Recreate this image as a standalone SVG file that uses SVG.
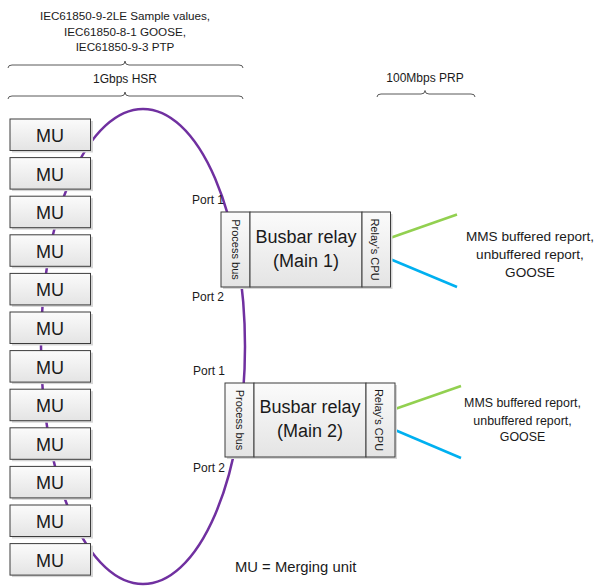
<svg xmlns="http://www.w3.org/2000/svg" width="600" height="586" viewBox="0 0 600 586">
<defs>
<linearGradient id="boxg" x1="0" y1="0" x2="0" y2="1">
<stop offset="0" stop-color="#fbfbfb"/>
<stop offset="1" stop-color="#e4e4e4"/>
</linearGradient>
<style>
text{font-family:"Liberation Sans",Arial,sans-serif;fill:#1a1a1a}
.box{fill:url(#boxg);stroke:#3c3c3c;stroke-width:1}
.shadow{fill:#d6d6d6}
.mu{font-size:18px;text-anchor:middle}
.lbl{font-size:11.7px;text-anchor:middle}
.lbl2{font-size:12.4px;text-anchor:middle}
.lbl1{font-size:13.6px;text-anchor:middle}
.port{font-size:12px}
.vt{font-size:11px;text-anchor:middle}
.big{font-size:18px;text-anchor:middle}
.brace{fill:none;stroke:#595959;stroke-width:1}
.ring{fill:none;stroke:#7030a0;stroke-width:2.5}
.green{stroke:#92d050;stroke-width:2.5}
.blue{stroke:#00b0f0;stroke-width:2.5}
</style>
</defs>
<rect width="600" height="586" fill="#fff"/>

<g id="header">
<text class="lbl" x="125" y="20">IEC61850-9-2LE Sample values,</text>
<text class="lbl" x="125" y="35.5">IEC61850-8-1 GOOSE,</text>
<text class="lbl" x="125" y="51">IEC61850-9-3 PTP</text>
<path class="brace" d="M8,68 Q8,65 12,65 L121,65 Q125,65 125,61 Q125,65 129,65 L239,65 Q243,65 243,68"/>
<text class="lbl" x="125" y="83" style="font-size:12px">1Gbps HSR</text>
<path class="brace" d="M8,99 Q8,96 12,96 L121,96 Q125,96 125,92 Q125,96 129,96 L239,96 Q243,96 243,99"/>
<text class="lbl" x="425" y="82.3" style="font-size:12px">100Mbps PRP</text>
<path class="brace" d="M377,97 Q377,94 381,94 L421,94 Q425,94 425,90.5 Q425,94 429,94 L471,94 Q475,94 475,97"/>
</g>

<g id="connectors">
<ellipse class="ring" cx="143" cy="346.5" rx="102" ry="237.5"/>
<line class="green" x1="390" y1="238" x2="457" y2="214.5"/>
<line class="blue" x1="390" y1="259" x2="457" y2="287"/>
<line class="green" x1="395" y1="409" x2="461" y2="386"/>
<line class="blue" x1="395" y1="430" x2="461" y2="458"/>
</g>

<g id="mu1"><rect class="shadow" x="12" y="121" width="81" height="31.5"/><rect class="box" x="10" y="119" width="80.5" height="31.5"/><text class="mu" x="50" y="142">MU</text></g>
<g id="mu2"><rect class="shadow" x="12" y="159.6" width="81" height="31.5"/><rect class="box" x="10" y="157.6" width="80.5" height="31.5"/><text class="mu" x="50" y="180.6">MU</text></g>
<g id="mu3"><rect class="shadow" x="12" y="198.2" width="81" height="31.5"/><rect class="box" x="10" y="196.2" width="80.5" height="31.5"/><text class="mu" x="50" y="219.2">MU</text></g>
<g id="mu4"><rect class="shadow" x="12" y="236.8" width="81" height="31.5"/><rect class="box" x="10" y="234.8" width="80.5" height="31.5"/><text class="mu" x="50" y="257.8">MU</text></g>
<g id="mu5"><rect class="shadow" x="12" y="275.4" width="81" height="31.5"/><rect class="box" x="10" y="273.4" width="80.5" height="31.5"/><text class="mu" x="50" y="296.4">MU</text></g>
<g id="mu6"><rect class="shadow" x="12" y="314" width="81" height="31.5"/><rect class="box" x="10" y="312" width="80.5" height="31.5"/><text class="mu" x="50" y="335">MU</text></g>
<g id="mu7"><rect class="shadow" x="12" y="352.6" width="81" height="31.5"/><rect class="box" x="10" y="350.6" width="80.5" height="31.5"/><text class="mu" x="50" y="373.6">MU</text></g>
<g id="mu8"><rect class="shadow" x="12" y="391.2" width="81" height="31.5"/><rect class="box" x="10" y="389.2" width="80.5" height="31.5"/><text class="mu" x="50" y="412.2">MU</text></g>
<g id="mu9"><rect class="shadow" x="12" y="429.8" width="81" height="31.5"/><rect class="box" x="10" y="427.8" width="80.5" height="31.5"/><text class="mu" x="50" y="450.8">MU</text></g>
<g id="mu10"><rect class="shadow" x="12" y="468.4" width="81" height="31.5"/><rect class="box" x="10" y="466.4" width="80.5" height="31.5"/><text class="mu" x="50" y="489.4">MU</text></g>
<g id="mu11"><rect class="shadow" x="12" y="507" width="81" height="31.5"/><rect class="box" x="10" y="505" width="80.5" height="31.5"/><text class="mu" x="50" y="528">MU</text></g>
<g id="mu12"><rect class="shadow" x="12" y="545.6" width="81" height="31.5"/><rect class="box" x="10" y="543.6" width="80.5" height="31.5"/><text class="mu" x="50" y="566.6">MU</text></g>

<g id="relay1">
<rect class="shadow" x="223" y="214" width="169.5" height="75"/>
<rect class="box" x="221" y="212" width="29" height="75"/>
<rect class="box" x="250" y="212" width="112" height="75"/>
<rect class="box" x="362" y="212" width="28.5" height="75"/>
<text class="vt" transform="translate(232,249.5) rotate(90)">Process bus</text>
<text class="vt" transform="translate(370.5,249.5) rotate(90)">Relay’s CPU</text>
<text class="big" x="306" y="243">Busbar relay</text>
<text class="big" x="306" y="267">(Main 1)</text>
<text class="port" x="192" y="204">Port 1</text>
<text class="port" x="192" y="300.5">Port 2</text>
</g>

<g id="relay2">
<rect class="shadow" x="227" y="385" width="170" height="74"/>
<rect class="box" x="225" y="383" width="29" height="74"/>
<rect class="box" x="254" y="383" width="112" height="74"/>
<rect class="box" x="366" y="383" width="29" height="74"/>
<text class="vt" transform="translate(235.5,420) rotate(90)">Process bus</text>
<text class="vt" transform="translate(374.5,420) rotate(90)">Relay’s CPU</text>
<text class="big" x="310" y="413">Busbar relay</text>
<text class="big" x="310" y="437">(Main 2)</text>
<text class="port" x="193" y="375">Port 1</text>
<text class="port" x="193" y="472">Port 2</text>
</g>

<g id="label1">
<text class="lbl1" x="530" y="240.5">MMS buffered report,</text>
<text class="lbl1" x="530" y="259">unbuffered report,</text>
<text class="lbl1" x="530" y="277">GOOSE</text>
</g>
<g id="label2">
<text class="lbl2" x="522.5" y="407">MMS buffered report,</text>
<text class="lbl2" x="522.5" y="424.5">unbuffered report,</text>
<text class="lbl2" x="522.5" y="441">GOOSE</text>
</g>
<g id="legend">
<text x="235" y="572" style="font-size:14.8px">MU = Merging unit</text>
</g>
</svg>
